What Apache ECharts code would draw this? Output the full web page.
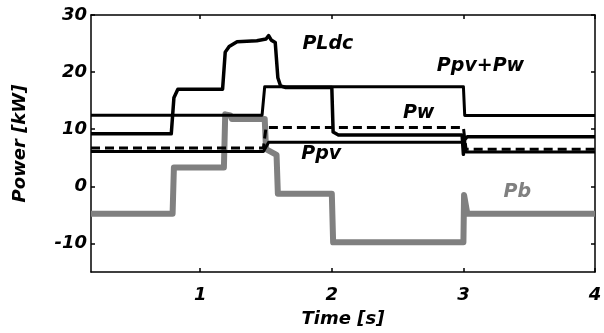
<!DOCTYPE html>
<html><head><meta charset="utf-8">
<script src="https://cdn.jsdelivr.net/npm/echarts@6/dist/echarts.min.js"></script>
<style>html,body{margin:0;padding:0;background:#fff}#c{width:604px;height:333px}</style>
</head><body><div id="c"></div>
<script>
// ---- data ----
var xTicks = [1, 2, 3, 4];
var yTicks = [-10, 0, 10, 20, 30];

var tPLdc = [0.17, 0.78, 0.80, 0.83, 1.17, 1.19, 1.22, 1.28, 1.43, 1.50, 1.52, 1.54, 1.57, 1.59, 1.61, 1.65, 2.00, 2.01, 2.05, 2.99, 3.00, 3.01, 3.03, 4.0];
var vPLdc = [9.2, 9.2, 15.5, 17.0, 17.0, 23.5, 24.5, 25.3, 25.5, 25.8, 26.4, 25.6, 25.2, 19.0, 17.6, 17.3, 17.3, 9.5, 9.0, 9.0, 5.6, 8.2, 8.7, 8.7];

var tPsum = [0.17, 1.47, 1.49, 3.00, 3.01, 4.0];
var vPsum = [12.45, 12.45, 17.45, 17.45, 12.4, 12.4];

var tPw = [0.17, 1.48, 1.50, 3.00, 3.02, 4.0];
var vPw = [6.7, 6.7, 10.3, 10.3, 6.5, 6.5];

var tPpv = [0.17, 1.48, 1.52, 3.00, 3.02, 4.0];
var vPpv = [6.1, 6.1, 7.7, 7.7, 6.0, 6.0];

var tPb = [0.17, 0.79, 0.80, 1.18, 1.19, 1.23, 1.24, 1.49, 1.50, 1.58, 1.59, 2.00, 2.01, 3.00, 3.005, 3.03, 4.0];
var vPb = [-4.8, -4.8, 3.3, 3.3, 12.6, 12.4, 11.8, 11.8, 6.5, 5.5, -1.3, -1.3, -9.8, -9.8, -1.5, -4.8, -4.8];

var labelText = ['PLdc', 'Ppv+Pw', 'Pw', 'Ppv', 'Pb'];
var labelT = [1.97, 3.13, 2.66, 1.92, 3.41];
var labelV = [24.9, 21.0, 12.75, 5.6, -1.0];
var labelColor = ['#000', '#000', '#000', '#000', '#808080'];

function pairs(t, v) { return t.map(function (x, i) { return [x, v[i]]; }); }

var FONT = 'DejaVu Sans';
var chart = echarts.init(document.getElementById('c'), null, {renderer: 'canvas'});

var axisLineStyle = {color: '#000', width: 1.5};
function xa(pos, show) {
  return {
    type: 'value', position: pos, min: 0.17, max: 4,
    axisLine: {show: true, onZero: false, lineStyle: axisLineStyle},
    axisTick: {show: true, inside: true, length: 4, customValues: xTicks, lineStyle: {color: '#000', width: 1.5}},
    axisLabel: {show: show, customValues: xTicks, margin: 14, color: '#000', fontFamily: FONT, fontWeight: 'bold', fontStyle: 'italic', fontSize: 18},
    splitLine: {show: false}
  };
}
function ya(pos, show) {
  return {
    type: 'value', position: pos, min: -15, max: 30,
    axisLine: {show: true, onZero: false, lineStyle: axisLineStyle},
    axisTick: {show: true, inside: true, length: 4, customValues: yTicks, lineStyle: {color: '#000', width: 1.5}},
    axisLabel: {show: show, customValues: yTicks, margin: 4, color: '#000', fontFamily: FONT, fontWeight: 'bold', fontStyle: 'italic', fontSize: 18},
    splitLine: {show: false}
  };
}
var xAxis0 = xa('bottom', true);
xAxis0.name = 'Time [s]';
xAxis0.nameLocation = 'middle';
xAxis0.nameGap = 38;
xAxis0.nameTextStyle = {color: '#000', fontFamily: FONT, fontWeight: 'bold', fontStyle: 'italic', fontSize: 18};
var yAxis0 = ya('left', true);
yAxis0.name = 'Power [kW]';
yAxis0.nameLocation = 'middle';
yAxis0.nameGap = 62;
yAxis0.nameTextStyle = {color: '#000', fontFamily: FONT, fontWeight: 'bold', fontStyle: 'italic', fontSize: 18};

function line(name, t, v, color, width, type) {
  return {
    name: name, type: 'line', data: pairs(t, v), showSymbol: false, symbol: 'none',
    lineStyle: {color: color, width: width, type: type || 'solid', cap: 'butt', join: 'round'},
    animation: false, silent: true, z: 2
  };
}

var labelData = labelText.map(function (s, i) {
  return {value: [labelT[i], labelV[i]], label: {formatter: s, color: labelColor[i]}};
});

var option = {
  backgroundColor: '#fff',
  animation: false,
  grid: {left: 91, right: 9, top: 15, bottom: 61, containLabel: false, outerBoundsMode: 'none'},
  xAxis: [xAxis0, xa('top', false)],
  yAxis: [yAxis0, ya('right', false)],
  series: [
    line('Pb', tPb, vPb, '#808080', 6),
    line('Ppv+Pw', tPsum, vPsum, '#000', 3),
    line('Pw', tPw, vPw, '#000', 3, [9, 5]),
    line('Ppv', tPpv, vPpv, '#000', 3),
    line('PLdc', tPLdc, vPLdc, '#000', 3.5),
    {
      type: 'scatter', data: labelData, symbolSize: 0, silent: true, z: 5,
      itemStyle: {opacity: 1},
      label: {show: true, position: 'inside', opacity: 1, textBorderWidth: 0, fontFamily: FONT, fontWeight: 'bold', fontStyle: 'italic', fontSize: 19}
    }
  ]
};
chart.setOption(option);
</script>
</body></html>
